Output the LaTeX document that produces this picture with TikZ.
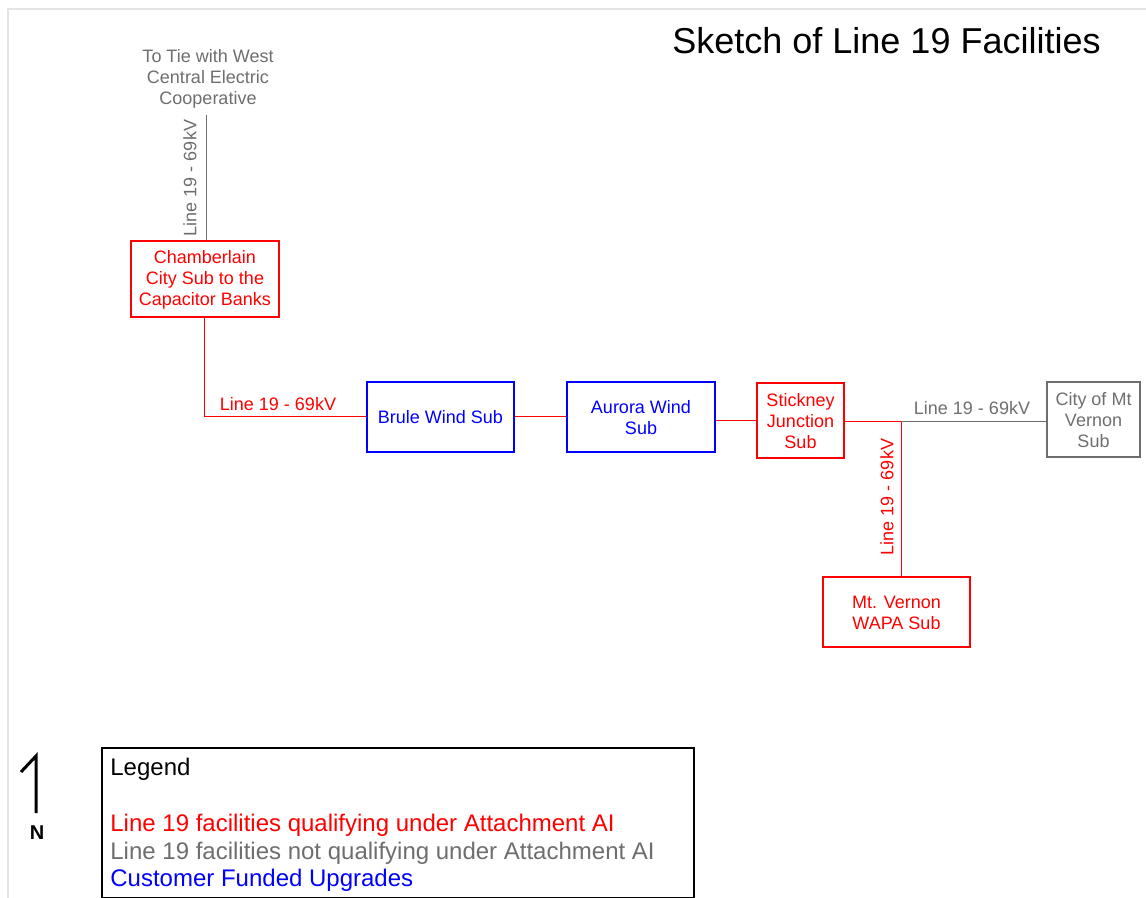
\documentclass[tikz,border=0pt]{standalone}
\usepackage{fontspec}
\setmainfont{Liberation Sans}
\usetikzlibrary{calc}

\definecolor{linegrey}{RGB}{110,110,110}
\definecolor{framegrey}{RGB}{228,228,228}

\tikzset{
  subbox/.style = {draw, line width=1pt, align=center, inner sep=0pt,
                   font=\fontsize{9}{10.5}\selectfont},
  qualsub/.style = {subbox, red},
  custsub/.style = {subbox, blue},
  othersub/.style = {subbox, linegrey},
  linelabel/.style = {font=\fontsize{9}{10.5}\selectfont, inner sep=0pt},
  legendtext/.style = {font=\fontsize{12}{13.75}\selectfont, anchor=west, inner sep=0pt}
}

\begin{document}
\begin{tikzpicture}[x=0.5pt, y=-0.5pt]
            \useasboundingbox (0,0) rectangle (1146,898);
            \draw[framegrey, line width=0.6pt] (8,898) -- (8,9) -- (1146,9);

            % title
            \node[font=\fontsize{18}{21}\selectfont, anchor=east, inner sep=0pt] (title) at (1101,41) {Sketch of Line 19 Facilities};

            % substations
            \node[qualsub, minimum width=74pt, minimum height=38pt] (cham) at (205,279) {\strut Chamberlain\\City Sub to the\\Capacitor Banks};
            \node[custsub, minimum width=73.5pt, minimum height=35pt] (brule) at (440.5,417) {Brule Wind Sub};
            \node[custsub, minimum width=74pt, minimum height=35pt] (aurora) at (641,417) {\strut Aurora Wind\\Sub};
            \node[qualsub, minimum width=43.5pt, minimum height=37.5pt] (stick) at (800.5,420.5) {\strut Stickney\\Junction\\Sub};
            \node[othersub, minimum width=46.5pt, minimum height=37.5pt] (city) at (1093.5,419.5) {\strut City of Mt\\Vernon\\Sub};
            \node[qualsub, minimum width=73.5pt, minimum height=35pt] (wapa) at (896.5,612) {\strut Mt. Vernon\\WAPA Sub};

            % tie to the north
            \node[linelabel, linegrey, align=center] (tie) at (208,79) {To Tie with West\\Central Electric\\Cooperative};
            \coordinate (tieend) at (206,115);
            \draw[linegrey, line width=0.5pt] (tieend) -- (tieend |- cham.north);
            \node[linelabel, linegrey, rotate=90] (tielbl) at (190,178) {Line 19 - 69kV};

            % line 19 red sections
            \coordinate (bend) at (204,417);
            \draw[red, line width=0.5pt] (cham.south -| bend) -- (bend) -- (brule.west);
            \node[linelabel, red] (chamlbl) at (278,404) {Line 19 - 69kV};
            \draw[red, line width=0.5pt] (brule.east) -- (aurora.west);
            \draw[red, line width=0.5pt] (stick.west -| aurora.east) -- (stick.west);
            \coordinate (jn) at (901,422);
            \draw[red, line width=0.5pt] (stick.east |- jn) -- (jn);
            \draw[red, line width=0.5pt] (jn) -- (jn |- wapa.north);
            \node[linelabel, red, rotate=90] (wapalbl) at (887,497) {Line 19 - 69kV};
            \draw[linegrey, line width=0.5pt] (jn) -- (jn -| city.west);
            \node[linelabel, linegrey] (citylbl) at (972,408) {Line 19 - 69kV};

            % north arrow
            \coordinate (ntop) at (36,756);
            \coordinate (nbot) at (36,813);
            \coordinate (ntip) at (21,772);
            \draw[line width=1.5pt] (nbot) -- (ntop) -- (ntip);
            \node[font=\fontsize{10}{12}\selectfont\bfseries, inner sep=0pt] (north) at (37,833) {N};

            % legend
            \draw[line width=1pt] (102,898) -- (102,748) -- (694,748) -- (694,898) -- cycle;
            \node[legendtext] (leg) at (110,769) {Legend};
            \node[legendtext, red] (legq) at (110,825) {Line 19 facilities qualifying under Attachment AI};
            \node[legendtext, linegrey] (legn) at (110,853) {Line 19 facilities not qualifying under Attachment AI};
            \node[legendtext, blue] (legc) at (110,880) {Customer Funded Upgrades};
        \end{tikzpicture}
\end{document}
